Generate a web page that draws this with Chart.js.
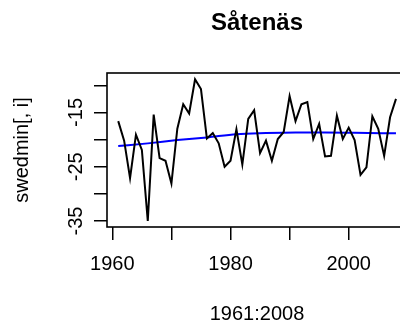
<!DOCTYPE html>
<html>
<head>
<meta charset="utf-8">
<title>Såtenäs</title>
<script src="https://cdn.jsdelivr.net/npm/chart.js@4.4.1/dist/chart.umd.min.js"></script>
<style>
  html, body { margin: 0; padding: 0; background: #fff; }
  #wrap { width: 400px; height: 326px; }
</style>
</head>
<body>
<div id="wrap"><canvas id="plot" width="400" height="326"></canvas></div>
<script>
// yearly minimum temperature, Såtenäs
const years = [
  1961, 1962, 1963, 1964, 1965, 1966, 1967, 1968, 1969, 1970,
  1971, 1972, 1973, 1974, 1975, 1976, 1977, 1978, 1979, 1980,
  1981, 1982, 1983, 1984, 1985, 1986, 1987, 1988, 1989, 1990,
  1991, 1992, 1993, 1994, 1995, 1996, 1997, 1998, 1999, 2000,
  2001, 2002, 2003, 2004, 2005, 2006, 2007, 2008
];
const minTemps = [
  -16.6, -20.2, -27.1, -19.1, -21.9, -35.0, -15.4, -23.4, -23.9, -28.1,
  -18.0, -13.5, -15.2, -8.9, -10.7, -19.8, -18.8, -20.7, -25.0, -23.9,
  -18.1, -24.6, -16.2, -14.6, -22.5, -20.2, -23.9, -19.9, -18.6, -12.0,
  -16.6, -13.5, -13.1, -19.9, -17.1, -23.1, -23.0, -15.6, -19.9, -17.8,
  -20.1, -26.5, -25.1, -15.7, -18.0, -23.0, -15.9, -12.5
];

// smoothed trend
const trendYears = [1961, 1966, 1971, 1976, 1981, 1986, 1991, 1996, 2001, 2008];
const trendTemps = [-21.2, -20.7, -20.1, -19.6, -19.0, -18.8, -18.7, -18.7, -18.75, -18.85];

const xTicks = [1960, 1970, 1980, 1990, 2000];
const xLabelled = [1960, 1980, 2000];
const yTicks = [-35, -30, -25, -20, -15, -10];
const yLabelled = [-35, -25, -15];

const FONT = "'Liberation Sans', Arial, Helvetica, sans-serif";
Chart.defaults.font.family = FONT;
Chart.defaults.color = '#000';

const pts = (xs, ys) => xs.map((x, i) => ({ x: x, y: ys[i] }));

// box, titles and rotated y labels in the style of base R graphics
const rDecor = {
  id: 'rDecor',
  afterDraw(chart) {
    const { ctx, chartArea: a, scales } = chart;
    ctx.save();
    ctx.strokeStyle = '#000';
    ctx.lineWidth = 1.6;
    ctx.strokeRect(a.left, a.top, a.right - a.left + 20, a.bottom - a.top);

    ctx.fillStyle = '#000';
    ctx.textAlign = 'center';
    ctx.textBaseline = 'middle';

    ctx.font = 'bold 24px ' + FONT;
    ctx.fillText('Såtenäs', 257, 23);

    ctx.font = '20px ' + FONT;
    ctx.fillText('1961:2008', 257, 314);

    ctx.save();
    ctx.translate(22, 150);
    ctx.rotate(-Math.PI / 2);
    ctx.fillText('swedmin[, i]', 0, 0);
    ctx.restore();

    yLabelled.forEach(v => {
      const y = scales.y.getPixelForValue(v);
      ctx.save();
      ctx.translate(76, y);
      ctx.rotate(-Math.PI / 2);
      ctx.fillText(String(v), 0, 0);
      ctx.restore();
    });
    ctx.restore();
  }
};

new Chart(document.getElementById('plot'), {
  type: 'line',
  data: {
    datasets: [
      {
        data: pts(years, minTemps),
        borderColor: '#000',
        borderWidth: 2,
        pointRadius: 0,
        tension: 0
      },
      {
        data: pts(trendYears, trendTemps),
        borderColor: '#0000ff',
        borderWidth: 2,
        pointRadius: 0,
        cubicInterpolationMode: 'monotone'
      }
    ]
  },
  options: {
    responsive: false,
    animation: false,
    layout: { padding: { top: 73, left: 0, right: 0, bottom: 0 } },
    plugins: {
      legend: { display: false },
      tooltip: { enabled: false }
    },
    scales: {
      x: {
        type: 'linear',
        min: 1959.1,
        max: 2008.68,
        afterBuildTicks: s => { s.ticks = xTicks.map(v => ({ value: v })); },
        afterFit: s => { s.height = 99; },
        border: { display: false },
        grid: { drawOnChartArea: false, drawTicks: true, tickLength: 13, color: '#000', lineWidth: 1.5 },
        ticks: {
          autoSkip: false,
          maxRotation: 0,
          padding: 12,
          font: { size: 20 },
          callback: v => (xLabelled.includes(v) ? String(v) : '')
        }
      },
      y: {
        min: -36.1,
        max: -7.74,
        afterBuildTicks: s => { s.ticks = yTicks.map(v => ({ value: v })); },
        afterFit: s => { s.width = 107; },
        border: { display: false },
        grid: { drawOnChartArea: false, drawTicks: true, tickLength: 13, color: '#000', lineWidth: 1.5 },
        ticks: { display: false }
      }
    }
  },
  plugins: [rDecor]
});
</script>
</body>
</html>
